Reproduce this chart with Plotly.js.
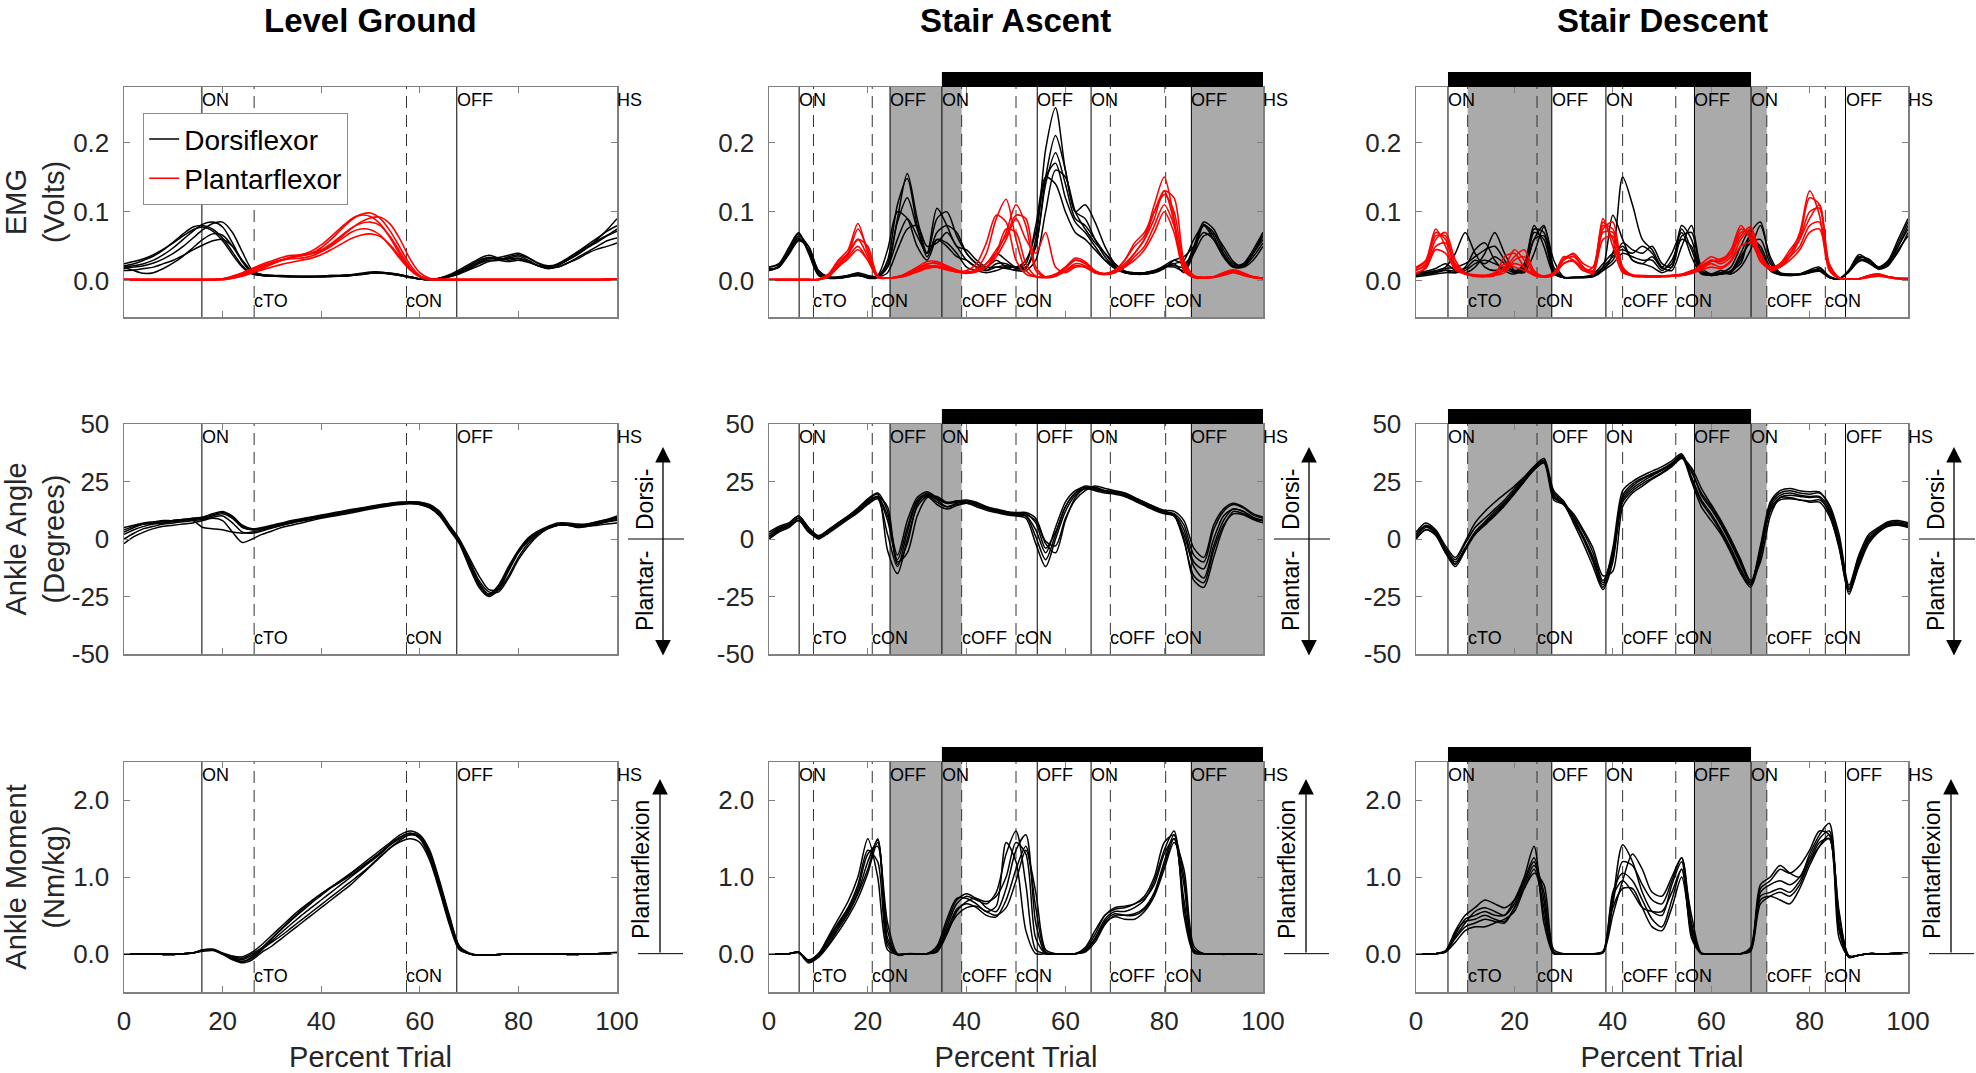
<!DOCTYPE html>
<html><head><meta charset="utf-8">
<script src="https://cdn.plot.ly/plotly-3.0.1.min.js"></script>
<style>html,body{margin:0;padding:0;background:#fff;}#chart{width:1976px;height:1073px;}</style>
</head><body><div id="chart"></div>
<script>
// ---------- shared axis data ----------
const percentTrial = [0,2,4,6,8,10,12,14,16,18,20,22,24,26,28,30,32,34,36,38,40,42,44,46,48,50,52,54,56,58,60,62,64,66,68,70,72,74,76,78,80,82,84,86,88,90,92,94,96,98,100];
const xTicks = [0,20,40,60,80,100];
const emgTicks = [0,0.1,0.2];
const emgTickText = ['0.0','0.1','0.2'];
const angleTicks = [-50,-25,0,25,50];
const angleTickText = ['-50','-25','0','25','50'];
const momentTicks = [0,1,2];
const momentTickText = ['0.0','1.0','2.0'];
const columnTitles = ['Level Ground','Stair Ascent','Stair Descent'];
const rowTitles = ['EMG<br>(Volts)','Ankle Angle<br>(Degrees)','Ankle Moment<br>(Nm/kg)'];
const seriesNames = ['Dorsiflexor','Plantarflexor'];

// ---------- gait events ----------
const levelEvents = [15.8,26.4,57.3,67.5,100];
const levelEventLabels = ['ON','cTO','cON','OFF','HS'];
const ascentEvents = [6.1,9.0,20.9,24.5,35.0,39.0,50.0,54.3,65.2,69.1,80.3,85.5,100];
const ascentEventLabels = ['ON','cTO','cON','OFF','ON','cOFF','cON','OFF','ON','cOFF','cON','OFF','HS'];
const ascentShaded = [[24.5,39.0],[85.5,100]];
const ascentBar = [35.0,100];
const descentEvents = [6.5,10.5,24.6,27.6,38.6,42.0,52.8,56.6,68.1,71.3,83.2,87.3,100];
const descentEventLabels = ['ON','cTO','cON','OFF','ON','cOFF','cON','OFF','ON','cOFF','cON','OFF','HS'];
const descentShaded = [[10.5,27.6],[56.6,71.3]];
const descentBar = [6.5,68.1];

// ---------- EMG (Volts) ----------
const levelEmgDorsi = [
[.02,.022,.025,.03,.038,.048,.06,.072,.082,.085, .078,.055,.028,.012,.008,.007,.007,.006,.006,.006, .006,.007,.007,.008,.01,.012,.012,.01,.008,.006, .003,.002,.004,.008,.013,.02,.028,.034,.032,.033, .036,.03,.022,.02,.025,.033,.042,.05,.058,.066, .075],
[.015,.016,.018,.02,.025,.03,.037,.045,.052,.058, .06,.05,.03,.014,.009,.008,.007,.007,.007,.007, .007,.008,.008,.009,.01,.011,.011,.01,.008,.005, .003,.002,.003,.006,.01,.016,.022,.028,.03,.035, .038,.033,.025,.02,.02,.026,.032,.04,.046,.05, .055],
[.025,.028,.032,.038,.046,.055,.065,.074,.078,.072, .058,.038,.02,.01,.008,.007,.006,.006,.006,.006, .006,.006,.007,.008,.009,.011,.012,.011,.009,.006, .003,.002,.004,.009,.016,.024,.032,.037,.033,.03, .032,.028,.022,.018,.022,.03,.04,.048,.056,.065, .072],
[.018,.02,.022,.026,.032,.04,.05,.062,.074,.083, .085,.07,.042,.016,.009,.008,.008,.007,.007,.007, .007,.008,.008,.009,.011,.013,.013,.011,.009,.006, .003,.002,.003,.007,.012,.018,.026,.032,.034,.037, .04,.034,.026,.022,.024,.03,.038,.048,.06,.074, .09],
[.02,.015,.011,.012,.018,.026,.036,.048,.06,.068, .066,.05,.028,.013,.009,.008,.007,.007,.006,.006, .007,.007,.008,.009,.01,.011,.012,.011,.009,.006, .003,.002,.003,.006,.011,.018,.025,.03,.03,.032, .033,.028,.022,.018,.02,.026,.034,.042,.05,.058, .062],
[.022,.025,.03,.036,.045,.056,.068,.078,.08,.075, .062,.042,.022,.011,.008,.007,.007,.006,.006,.006, .006,.007,.007,.008,.01,.012,.012,.01,.008,.005, .003,.002,.004,.008,.014,.022,.03,.034,.03,.028, .03,.027,.022,.02,.024,.032,.042,.052,.062,.072, .08]
];
const levelEmgPlantar = [
[.002,.002,.002,.002,.002,.002,.002,.002,.002,.002, .003,.006,.01,.016,.022,.027,.031,.034,.036,.04, .048,.06,.074,.087,.096,.098,.09,.072,.048,.024, .008,.003,.002,.002,.002,.002,.002,.002,.002,.002, .002,.002,.002,.002,.002,.002,.002,.002,.002,.003, .003],
[.002,.002,.002,.002,.002,.002,.002,.002,.002,.002, .002,.004,.007,.012,.018,.024,.03,.035,.037,.039, .043,.052,.063,.075,.085,.091,.092,.082,.06,.032, .012,.004,.002,.002,.002,.002,.002,.002,.002,.002, .002,.002,.002,.002,.002,.002,.002,.002,.002,.002, .003],
[.002,.002,.002,.002,.002,.002,.002,.002,.002,.002, .003,.005,.01,.016,.022,.026,.03,.032,.033,.036, .042,.05,.06,.07,.075,.074,.066,.05,.032,.016, .006,.002,.002,.002,.002,.002,.002,.002,.002,.002, .002,.002,.002,.002,.002,.002,.002,.002,.002,.002, .002],
[.002,.002,.002,.002,.002,.002,.002,.002,.002,.002, .003,.007,.012,.018,.024,.029,.034,.037,.038,.04, .045,.054,.065,.076,.083,.085,.08,.064,.042,.02, .007,.003,.002,.002,.002,.002,.002,.002,.002,.002, .002,.002,.002,.002,.002,.002,.002,.002,.002,.002, .003],
[.002,.002,.002,.002,.002,.002,.002,.002,.002,.002, .002,.004,.008,.012,.016,.02,.024,.027,.03,.033, .038,.045,.053,.061,.066,.068,.064,.052,.035,.018, .007,.003,.002,.002,.002,.002,.002,.002,.002,.002, .002,.002,.002,.002,.002,.002,.002,.002,.002,.002, .002],
[.002,.002,.002,.002,.002,.002,.002,.002,.002,.002, .003,.005,.009,.014,.02,.025,.03,.034,.038,.043, .052,.064,.077,.089,.095,.093,.082,.062,.038,.017, .006,.002,.002,.002,.002,.002,.002,.002,.002,.002, .002,.002,.002,.002,.002,.002,.002,.002,.002,.002, .003]
];
const ascentEmgDorsi = [
[.015,.022,.045,.068,.04,.008,.004,.004,.006,.01, .006,.006,.02,.09,.155,.09,.04,.105,.08,.05, .045,.03,.02,.02,.018,.016,.018,.06,.19,.25, .16,.1,.09,.06,.035,.02,.012,.01,.01,.012, .02,.025,.012,.04,.08,.07,.04,.022,.025,.045, .07],
[.02,.025,.048,.07,.042,.01,.004,.005,.007,.009, .005,.007,.03,.11,.148,.08,.035,.07,.08,.07, .04,.025,.015,.02,.022,.02,.02,.05,.15,.21, .16,.1,.11,.085,.05,.025,.014,.01,.01,.014, .02,.02,.015,.045,.082,.065,.035,.02,.022,.04, .065],
[.018,.02,.04,.062,.045,.012,.005,.005,.008,.01, .004,.005,.025,.085,.12,.075,.04,.06,.05,.035, .03,.02,.015,.025,.025,.018,.02,.05,.14,.185, .14,.09,.08,.06,.04,.022,.012,.01,.01,.012, .018,.03,.035,.05,.07,.06,.038,.022,.024,.04, .06],
[.015,.02,.04,.06,.045,.012,.005,.004,.006,.008, .005,.008,.045,.1,.09,.05,.03,.06,.055,.04, .02,.015,.012,.015,.02,.02,.03,.07,.15,.17, .12,.085,.07,.05,.03,.018,.012,.01,.012,.015, .02,.025,.03,.06,.08,.06,.035,.02,.02,.035, .055],
[.02,.024,.042,.065,.05,.015,.006,.005,.006,.008, .006,.006,.02,.06,.09,.065,.04,.09,.1,.065, .04,.025,.02,.03,.02,.015,.015,.03,.1,.16, .15,.1,.075,.055,.04,.025,.014,.01,.01,.013, .02,.022,.02,.05,.085,.075,.045,.025,.022,.04, .07],
[.016,.02,.038,.058,.05,.015,.006,.006,.008,.012, .008,.006,.012,.045,.075,.08,.05,.055,.07,.05, .03,.02,.018,.04,.03,.02,.025,.08,.15,.14, .1,.07,.06,.045,.03,.02,.014,.012,.012,.015, .022,.03,.025,.04,.065,.068,.05,.028,.02,.03, .05]
];
const ascentEmgPlantar = [
[.002,.002,.002,.002,.002,.003,.01,.03,.045,.083, .04,.006,.004,.006,.01,.018,.025,.025,.02,.015, .012,.018,.04,.09,.118,.06,.015,.006,.005,.008, .018,.03,.025,.014,.01,.015,.03,.05,.065,.11, .15,.09,.015,.005,.005,.006,.012,.015,.01,.006, .004],
[.002,.002,.002,.002,.002,.002,.008,.025,.038,.06, .035,.005,.004,.005,.008,.014,.02,.022,.018,.014, .012,.015,.025,.04,.07,.11,.08,.015,.005,.007, .015,.025,.022,.012,.01,.014,.025,.04,.06,.1, .13,.085,.018,.006,.005,.006,.01,.014,.01,.005, .004],
[.002,.002,.002,.002,.002,.002,.006,.02,.035,.05, .03,.005,.004,.006,.01,.016,.022,.02,.016,.013, .012,.014,.02,.035,.06,.09,.06,.04,.07,.02, .012,.02,.02,.012,.01,.012,.02,.035,.05,.08, .11,.08,.02,.006,.005,.005,.008,.012,.008,.005, .004],
[.002,.002,.002,.002,.002,.002,.007,.022,.04,.06, .05,.008,.004,.006,.009,.016,.024,.026,.02,.014, .015,.025,.055,.095,.085,.03,.01,.006,.006,.01, .02,.033,.028,.015,.01,.014,.022,.04,.06,.09, .13,.12,.03,.008,.005,.006,.012,.016,.012,.006, .004],
[.002,.002,.002,.002,.002,.002,.006,.02,.032,.045, .03,.006,.004,.005,.008,.013,.018,.02,.017,.013, .011,.013,.02,.04,.075,.07,.025,.007,.005,.007, .014,.022,.02,.012,.009,.012,.02,.03,.045,.07, .1,.07,.015,.005,.004,.005,.009,.013,.01,.005, .003],
[.002,.002,.002,.002,.002,.002,.008,.028,.04,.075, .045,.007,.004,.006,.012,.02,.028,.028,.022,.016, .013,.016,.025,.045,.065,.095,.09,.02,.006,.009, .02,.03,.026,.014,.011,.016,.03,.055,.07,.1, .125,.1,.025,.006,.005,.006,.011,.015,.01,.006, .004]
];
const descentEmgDorsi = [
[.01,.012,.015,.02,.04,.07,.04,.02,.015,.02, .015,.02,.06,.08,.02,.005,.005,.005,.006,.015, .04,.15,.11,.06,.045,.02,.015,.05,.08,.02, .01,.01,.015,.025,.07,.085,.03,.01,.01,.01, .015,.015,.006,.003,.015,.035,.03,.02,.03,.06, .09],
[.008,.01,.012,.015,.012,.02,.045,.055,.03,.015, .01,.02,.075,.07,.015,.005,.005,.006,.008,.02, .095,.06,.03,.025,.02,.012,.02,.075,.045,.012, .008,.01,.012,.03,.06,.05,.02,.01,.008,.009, .012,.018,.006,.003,.014,.032,.028,.018,.025,.05, .075],
[.012,.014,.018,.025,.015,.012,.02,.04,.07,.04, .015,.012,.04,.078,.03,.006,.005,.005,.007,.018, .03,.055,.045,.04,.05,.025,.02,.065,.07,.015, .01,.012,.01,.02,.045,.08,.035,.012,.01,.01, .014,.016,.005,.003,.016,.038,.03,.02,.028,.055, .085],
[.006,.008,.01,.012,.012,.015,.025,.03,.025,.018, .012,.015,.06,.065,.015,.005,.005,.005,.007,.015, .025,.04,.035,.03,.03,.015,.03,.06,.05,.012, .008,.01,.014,.04,.065,.045,.018,.009,.008,.009, .012,.014,.005,.003,.014,.03,.026,.017,.022,.045, .065],
[.01,.012,.014,.018,.02,.025,.035,.045,.05,.03, .012,.018,.07,.06,.012,.005,.005,.006,.01,.025, .04,.045,.04,.05,.04,.018,.025,.08,.06,.014, .01,.015,.012,.035,.055,.06,.025,.01,.009,.01, .016,.02,.007,.003,.015,.034,.032,.02,.026,.05, .08],
[.008,.01,.013,.016,.014,.018,.03,.025,.035,.025, .014,.025,.08,.05,.01,.005,.005,.005,.008,.02, .035,.05,.03,.025,.035,.02,.04,.07,.035,.01, .009,.012,.02,.05,.075,.04,.015,.009,.009,.01, .014,.015,.006,.003,.013,.028,.03,.02,.024,.042, .07]
];
const descentEmgPlantar = [
[.015,.025,.07,.06,.02,.01,.008,.008,.01,.02, .045,.03,.01,.006,.008,.03,.035,.02,.01,.085, .06,.015,.008,.007,.007,.007,.008,.01,.015,.02, .03,.025,.035,.07,.07,.03,.02,.025,.04,.07, .13,.095,.015,.004,.003,.003,.008,.01,.006,.004, .004],
[.02,.03,.075,.05,.018,.01,.007,.006,.008,.035, .04,.02,.008,.006,.01,.035,.03,.015,.02,.09, .05,.012,.008,.007,.006,.007,.008,.008,.012,.025, .035,.03,.045,.08,.06,.04,.015,.02,.035,.06, .1,.105,.02,.004,.003,.003,.007,.01,.006,.004, .003],
[.01,.02,.05,.055,.025,.012,.008,.007,.008,.012, .03,.035,.012,.006,.009,.025,.03,.018,.015,.07, .07,.02,.008,.006,.006,.006,.007,.008,.012,.018, .025,.02,.03,.06,.075,.035,.018,.022,.035,.05, .08,.085,.02,.004,.003,.003,.006,.008,.005,.003, .003],
[.018,.028,.065,.065,.022,.01,.008,.008,.012,.025, .02,.015,.009,.007,.012,.03,.04,.025,.02,.08, .075,.018,.009,.008,.007,.007,.008,.009,.014,.022, .03,.028,.04,.075,.065,.028,.018,.025,.045,.065, .12,.11,.018,.004,.003,.003,.008,.01,.006,.004, .004],
[.012,.018,.045,.04,.016,.01,.007,.007,.009,.015, .025,.02,.009,.006,.01,.025,.028,.015,.012,.06, .065,.015,.007,.006,.006,.006,.007,.008,.011,.016, .02,.018,.028,.05,.055,.03,.016,.02,.03,.045, .07,.075,.02,.004,.003,.003,.005,.007,.005,.003, .003],
[.016,.022,.06,.07,.03,.012,.009,.008,.01,.018, .035,.045,.015,.007,.011,.032,.038,.02,.014,.075, .085,.02,.008,.007,.007,.007,.008,.009,.013,.02, .028,.032,.04,.065,.078,.038,.02,.024,.04,.06, .09,.11,.025,.005,.003,.003,.007,.009,.006,.004, .003]
];

// ---------- ankle angle (degrees) ----------
const levelAngle = [
[2,4,5.5,6.5,7,7.5,8,8.5,9,10, 11,9,5,4,4.5,5.5,6.5,7.5,8.2,9, 9.7,10.4,11.2,12,12.8,13.6,14.4,15,15.6,15.8, 15.5,14,11,5,-1,-10,-19,-24,-20,-12, -5,0,3,5,6,6,5.5,6,7,8, 9],
[-2,1,3,4.5,5.5,6,6.5,7,8,9, 8,3,-1.5,0,2,3.5,5,6,7,8, 9,9.8,10.5,11.3,12.2,13,13.8,14.5,15,15.3, 15,13.5,10,4,-2,-12,-21,-25,-22,-14, -6,-1,2.5,5,6,6,5,5.5,6.5,7.5, 8],
[5,6,7,7.5,8,8,8.5,8,5,4.5, 4,3,2.5,3,4,5,6,7,7.8,8.6, 9.4,10.2,11,11.8,12.6,13.4,14.2,15,15.5,15.5, 15,13.5,10.5,4.5,-1.5,-11,-20,-24,-21,-13, -5.5,-.5,2.5,4.5,6,6,5.5,5.5,6,6.5, 7],
[3,5,6.5,7,7.5,8,8.5,9,9.5,11, 12,10,6,4.5,5,6,7,8,8.8,9.6, 10.4,11.2,12,12.8,13.5,14.2,15,15.6,16,16, 16,15,12,6,0,-8,-16,-22,-22,-16, -8,-2,2,5,6.5,6.5,6,6.5,7.5,8.5, 10],
[0,2.5,4.5,5.5,6.5,7,7.5,8,8.5,9.5, 10,7,3,2.5,3.5,4.8,6,7,8,8.8, 9.6,10.4,11.2,12,12.8,13.6,14.3,15,15.4,15.6, 15.5,14,11.5,5.5,-.5,-9,-18,-23,-23,-17, -9,-3,1.5,4.5,6,6.5,6,6,6.5,7.5, 8.5],
[4,5.5,6.5,7,7.5,8,8.5,9,9.5,10.5, 11.5,9.5,5.5,4,4.5,5.5,6.5,7.5,8.5,9.3, 10,10.8,11.6,12.4,13.2,14,14.8,15.4,16,16.2, 16,14.5,11.5,5.5,-.5,-10,-19.5,-24.5,-21,-13, -5,.5,3.5,5.5,7,7,6.5,6.5,7.5,8.5, 9.5]
];
const ascentAngle = [
[1,4,6,9,4,1,3,6,9,12.5, 16,18,8,-9,5,17,19.5,17,14,15, 15.5,14.5,13,12,11,10.5,10,4,-6,5, 16,21,22.5,21.5,20.5,20,19,17,15,13, 11.5,10.5,4,-10,-13,0,10,13,12,9, 8],
[0,3,5,8,3,.5,3.5,6.5,9.5,13, 17,19.5,-5,-15,0,14,18.5,15,13,14.5, 15.5,14,12.5,11.5,10.5,10,9,-2,-12,0, 12,19,22,21.5,21,20.5,19.5,17.5,15.5,13.5, 12,10.5,0,-18,-21,-8,5,12,11,9, 8],
[2,5,6.5,10,5,1,4,7,10,13.5, 17.5,20,12,-11,-2,15,20,17.5,15.5,16.5, 17,16,14,12.5,11.5,11,11,7,-4,3, 14,20,23,22,21,20.5,20,18,16,14, 12,11,6,-7,-10,4,12,15,13.5,10.5, 9],
[1,4.5,6,9,4,.5,3,6,9,12, 15.5,18.5,14,-10,-6,10,18,18.5,16,16.5, 16,15,13.5,12.5,11.5,11,10.5,8,-2,-6, 8,18,22,22.5,21,20,19,17,15,13, 11.5,10,2,-12,-17,-3,8,13,12,9.5, 8],
[0,3.5,5.5,8,3.5,0,2.5,5.5,8.5,11.5, 15,17.5,2,-12,3,16,19,16,14,15.5, 16,15,13.5,12,11,10.5,10,1,-9,2, 14,20,22,21,20,19.5,18.5,16.5,14.5,12.5, 11,10,-1,-16,-19,-5,6,11,10.5,8.5, 7],
[3,5.5,7,10,5,1.5,4,7,10,13, 16.5,18.5,10,-7,8,18,20.5,18,15.5,16, 16.5,15.5,14,13,12,11.5,11.5,9,-1,-3, 9,17,21,23,22,21,20,18,16,14, 12.5,12,8,-4,-8,6,13,15.5,14,11, 9.5]
];
const descentAngle = [
[2,5.5,3,-5,-11,-4,3,7.5,12,16, 21,26,31,34,20,16,10,3,-6,-18, -6,19,24,26.5,28.5,30.5,33,36,30,19, 13,6,-2,-11,-19,-4,14,19,20,19, 18.5,18.5,13,-1,-22,-9,1,4.5,6.5,7, 6],
[0,4,2,-6,-12,-5,2,6,10,14.5, 19.5,25,30.5,35,18,15,8,0,-10,-21, -8,17,22,25,27.5,30,33,36.5,26,16, 10,3,-5,-14,-20,-7,12,17,17.5,17, 16.5,17,12,-3,-24,-11,-1,3,5.5,6, 5],
[3,7,4,-3,-8,-1,7,12,16,19.5, 23,27,31.5,34,19,15.5,7,-2,-12,-22, -10,16,21,24,26.5,29,32,35.5,25,14, 8,2,-6,-15,-21,-8,15,20,21,20, 19.5,20,15,2,-20,-7,2,5,7.5,8, 7],
[1,5,2.5,-5,-10,-4,3,7,11,15.5, 20.5,25.5,30,33,17,15,11,4,-4,-16, -14,14,20,23,26,28.5,31.5,35,31,22, 15,8,0,-9,-18,-10,10,18,19,18.5, 18,18,11,-4,-23,-12,-2,3,6,6.5, 5.5],
[2,6,3.5,-4,-9,-2,5,9,13,17, 22,26.5,31.5,35,21,16.5,9,1,-9,-20, -4,21,25,27.5,29.5,31.5,34,37,27,17, 11,4,-4,-13,-20,-3,16,21,22,21, 20.5,20.5,14,0,-21,-8,0,4,7,7.5, 6.5],
[0,4,1.5,-6,-11,-4,2,6.5,10.5,15, 20,25,30,33.5,18.5,15,9,1,-8,-19, -7,18,23,26,28,30,32.5,35.5,29,20, 14,7,-1,-10,-19,-6,13,18,18,17, 16,16,10,-3,-22,-10,-.5,3.5,6,6.5, 5.5]
];

// ---------- ankle moment (Nm/kg) ----------
const levelMoment = [
[0,0,0,0,-.01,-.01,0,.01,.04,.05, 0,-.06,-.1,-.06,.05,.17,.28,.39,.5,.6, .7,.8,.9,1,1.1,1.2,1.3,1.42,1.52,1.57, 1.5,1.25,.85,.4,.06,0,-.02,-.02,-.01,0, 0,0,0,0,0,-.01,-.01,0,0,.01, .01],
[0,0,0,0,0,-.01,0,.01,.05,.05, 0,-.04,-.06,0,.08,.2,.32,.44,.55,.66, .76,.86,.95,1.04,1.13,1.22,1.32,1.42,1.5,1.55, 1.52,1.3,.9,.45,.08,0,-.02,-.02,-.01,0, 0,0,0,0,0,0,-.01,0,0,0, .01],
[0,0,0,0,-.01,-.01,0,.01,.03,.04, -.01,-.08,-.12,-.08,.02,.1,.2,.3,.4,.5, .6,.7,.8,.9,1.02,1.14,1.26,1.38,1.48,1.55, 1.53,1.32,.92,.48,.1,.01,-.02,-.02,-.01,0, 0,0,0,0,0,-.01,-.01,0,0,0, .01],
[0,0,0,0,-.01,0,0,.01,.04,.05, 0,-.07,-.11,-.04,.07,.2,.33,.45,.57,.68, .78,.87,.96,1.05,1.15,1.25,1.35,1.45,1.55,1.6, 1.55,1.35,.95,.5,.1,0,-.02,-.02,-.01,0, 0,0,0,0,0,-.01,0,0,0,.01, .02],
[0,0,0,0,-.01,-.01,0,.01,.04,.05, 0,-.05,-.08,-.02,.06,.15,.24,.34,.44,.54, .64,.74,.84,.94,1.04,1.15,1.27,1.38,1.46,1.5, 1.45,1.22,.82,.38,.05,0,-.02,-.02,-.01,0, 0,0,0,0,0,-.01,-.01,0,0,0, .01],
[0,0,0,0,-.01,-.01,0,.01,.05,.06, .01,-.03,-.04,.02,.12,.24,.36,.48,.59,.69, .78,.86,.94,1.02,1.11,1.21,1.32,1.43,1.52,1.57, 1.53,1.28,.88,.42,.07,0,-.02,-.02,-.01,0, 0,0,0,0,0,0,-.01,0,0,.01, .01]
];
const ascentMoment = [
[0,0,0,.02,-.08,0,.2,.4,.6,.9, 1.35,1.2,.1,-.01,0,0,0,.05,.35,.65, .75,.7,.65,.8,1.3,1.6,.9,.05,0,0, 0,0,.05,.2,.45,.55,.55,.6,.7,.95, 1.35,1.6,.6,.02,0,0,0,0,0,0, 0],
[0,0,0,.02,-.1,-.03,.12,.32,.52,.78, 1.1,1.5,.3,-.02,0,0,0,.02,.25,.55, .68,.72,.6,.55,.85,1.35,1.55,.4,0,0, 0,0,.02,.15,.38,.5,.5,.52,.6,.8, 1.2,1.55,1.0,.05,0,0,-.01,0,0,0, 0],
[0,0,0,.01,-.12,-.05,.1,.28,.48,.72, 1.05,1.45,.4,0,0,0,0,.03,.3,.58, .65,.6,.5,.48,.7,1.1,1.4,.6,.02,0, 0,0,.03,.18,.4,.48,.45,.45,.55,.75, 1.1,1.45,1.1,.1,0,0,0,0,0,0, 0],
[0,0,0,.02,-.09,0,.18,.38,.58,.85, 1.3,1.4,.15,-.01,0,0,0,.08,.4,.7, .78,.72,.68,.75,1.0,1.45,1.3,.2,0,0, 0,0,.06,.25,.5,.6,.62,.65,.72,.9, 1.3,1.5,.7,.03,0,0,0,0,0,0, 0],
[0,0,0,.02,-.11,-.02,.15,.35,.55,.8, 1.2,1.48,.2,-.01,0,0,0,.04,.28,.5, .6,.62,.55,.5,.6,.95,1.35,.8,.05,0, 0,0,.04,.2,.42,.52,.5,.5,.58,.78, 1.15,1.5,.9,.05,0,0,0,0,0,0, 0],
[0,0,0,.02,-.1,-.01,.22,.45,.68,1.0, 1.5,1.0,.05,-.01,0,0,0,.1,.45,.72, .72,.65,.55,.62,1.45,1.2,.3,0,0,0, 0,0,.08,.3,.5,.58,.6,.65,.75,1.0, 1.45,1.55,.5,.01,0,0,0,0,0,0, 0]
];
const descentMoment = [
[0,0,0,.03,.25,.45,.5,.55,.5,.5, .7,1.0,1.4,.4,0,0,0,0,0,.02, .7,1.42,1.2,.8,.55,.5,.9,1.2,.2,0, 0,0,0,0,.05,.85,.95,1.1,1.05,1.15, 1.35,1.6,1.55,.2,-.04,-.02,0,0,0,.01, .01],
[0,0,0,.02,.2,.35,.4,.45,.42,.4, .6,.9,1.15,.8,.02,0,0,0,0,.01, .5,.95,1.3,1.1,.8,.75,1.0,1.25,.4,0, 0,0,0,0,.03,.65,.75,.8,.75,.9, 1.2,1.45,1.5,.5,-.03,-.02,0,0,0,0, .01],
[0,0,0,.04,.3,.5,.6,.7,.65,.6, .7,.95,1.2,.5,0,0,0,0,0,.03, .8,1.05,.95,.7,.45,.35,.7,1.1,.25,0, 0,0,0,0,.08,.9,1.0,1.15,1.05,1.0, 1.3,1.55,1.7,.4,-.04,-.02,0,0,0,.01, .01],
[0,0,0,.02,.15,.3,.35,.35,.4,.45, .55,.85,1.1,.6,0,0,0,0,0,.02, .6,.85,.85,.6,.35,.3,.6,1.0,.3,0, 0,0,0,0,.04,.7,.75,.7,.65,.85, 1.15,1.4,1.55,.3,-.05,-.02,0,0,0,0, .01],
[0,0,0,.03,.22,.4,.55,.6,.55,.5, .65,.95,1.25,.7,.01,0,0,0,0,.02, .65,1.2,1.15,.9,.7,.65,.95,1.25,.35,0, 0,0,0,0,.06,.8,.9,.95,.9,1.0, 1.25,1.5,1.6,.35,-.04,-.02,0,0,0,.01, .01],
[0,0,0,.03,.28,.42,.45,.5,.45,.42, .6,.85,1.05,.9,.05,0,0,0,0,.02, .75,.95,.8,.6,.55,.55,.8,1.1,.5,.01, 0,0,0,0,.05,.75,.8,.85,.8,.95, 1.2,1.4,1.5,.55,-.03,-.02,0,0,0,0, .01]
];

// ---------- figure construction ----------
const W = 1976, H = 1073;
const colPx = [[124,617],[769,1263],[1416,1908]];
const rowPx = [[87,317],[424,654],[762,992]];
const FONT = 'Arial, "Liberation Sans", sans-serif';
const px2x = p => p / W;
const px2y = p => 1 - p / H;

const columns = [
  {events: levelEvents, labels: levelEventLabels, shaded: [], bar: null,
   emg: [levelEmgDorsi, levelEmgPlantar], angle: levelAngle, moment: levelMoment},
  {events: ascentEvents, labels: ascentEventLabels, shaded: ascentShaded, bar: ascentBar,
   emg: [ascentEmgDorsi, ascentEmgPlantar], angle: ascentAngle, moment: ascentMoment},
  {events: descentEvents, labels: descentEventLabels, shaded: descentShaded, bar: descentBar,
   emg: [descentEmgDorsi, descentEmgPlantar], angle: descentAngle, moment: descentMoment}
];
const rowSpec = [
  {range: [-0.052, 0.28], tickvals: emgTicks, ticktext: emgTickText},
  {range: [-50, 50], tickvals: angleTicks, ticktext: angleTickText},
  {range: [-0.5, 2.5], tickvals: momentTicks, ticktext: momentTickText}
];

const traces = [];
const shapes = [];
const annotations = [];
const layout = {
  width: W, height: H, margin: {l: 0, r: 0, t: 0, b: 0, pad: 0},
  paper_bgcolor: '#ffffff', plot_bgcolor: '#ffffff',
  font: {family: FONT, color: '#262626'},
  showlegend: true,
  legend: {x: px2x(143), y: px2y(113), xanchor: 'left', yanchor: 'top',
           bgcolor: '#ffffff', bordercolor: '#8c8c8c', borderwidth: 1.2,
           font: {family: FONT, size: 28, color: '#000000'}, tracegroupgap: 0}
};

function addLines(sets, xa, ya, color, width, name, showLegendFirst) {
  sets.forEach((vals, i) => {
    traces.push({
      type: 'scatter', mode: 'lines', x: percentTrial, y: vals,
      xaxis: xa, yaxis: ya, name: name, legendgroup: name,
      showlegend: !!(showLegendFirst && i === 0),
      line: {color: color, width: width, shape: 'spline', smoothing: 0.8},
      hoverinfo: 'skip'
    });
  });
}

for (let r = 0; r < 3; r++) {
  for (let c = 0; c < 3; c++) {
    const k = r * 3 + c + 1;
    const xa = k === 1 ? 'x' : 'x' + k;
    const ya = k === 1 ? 'y' : 'y' + k;
    const xKey = k === 1 ? 'xaxis' : 'xaxis' + k;
    const yKey = k === 1 ? 'yaxis' : 'yaxis' + k;
    const col = columns[c];
    layout[xKey] = {
      domain: [px2x(colPx[c][0]), px2x(colPx[c][1])], anchor: ya,
      range: [0, 100], tickvals: xTicks, showticklabels: r === 2,
      ticks: 'inside', ticklen: 6, tickwidth: 1, tickcolor: '#808080',
      showline: true, linecolor: '#808080', linewidth: 1.5, mirror: 'ticks',
      showgrid: false, zeroline: false, automargin: false, fixedrange: true,
      ticklabelstandoff: 5,
      tickfont: {family: FONT, size: 26, color: '#262626'},
      title: r === 2 ? {text: 'Percent Trial', font: {family: FONT, size: 29, color: '#262626'}, standoff: 13} : {text: ''}
    };
    layout[yKey] = {
      domain: [px2y(rowPx[r][1]), px2y(rowPx[r][0])], anchor: xa,
      range: rowSpec[r].range, tickvals: rowSpec[r].tickvals, ticktext: rowSpec[r].ticktext,
      ticks: 'inside', ticklen: 6, tickwidth: 1, tickcolor: '#808080',
      showline: true, linecolor: '#808080', linewidth: 1.5, mirror: 'ticks',
      showgrid: false, zeroline: false, automargin: false, fixedrange: true,
      ticklabelstandoff: 8,
      tickfont: {family: FONT, size: 26, color: '#262626'},
      title: c === 0 ? {text: rowTitles[r], font: {family: FONT, size: 29, color: '#262626'}, standoff: 6} : {text: ''}
    };

    // curves
    if (r === 0) {
      addLines(col.emg[0], xa, ya, '#000000', 1.5, seriesNames[0], c === 0);
      addLines(col.emg[1], xa, ya, '#ff0000', 1.6, seriesNames[1], c === 0);
    } else if (r === 1) {
      addLines(col.angle, xa, ya, '#000000', 1.5, 'Ankle Angle', false);
    } else {
      addLines(col.moment, xa, ya, '#000000', 1.5, 'Ankle Moment', false);
    }

    // shaded phases
    col.shaded.forEach(s => shapes.push({type: 'rect', xref: xa, yref: ya + ' domain',
      x0: s[0], x1: s[1], y0: 0, y1: 1, fillcolor: '#aaaaaa', line: {width: 0}, layer: 'below'}));
    // event lines and labels
    col.events.forEach((ev, i) => {
      const lab = col.labels[i];
      const contra = lab.charAt(0) === 'c';
      if (lab !== 'HS') {
        shapes.push({type: 'line', xref: xa, yref: ya + ' domain', x0: ev, x1: ev, y0: 0, y1: 1,
          line: contra ? {color: '#333333', width: 1, dash: '12px,7px'} : {color: '#000000', width: 1},
          layer: 'below'});
      }
      annotations.push({xref: xa, yref: ya + ' domain', x: ev, y: contra ? 0.07 : 0.943,
        text: lab, showarrow: false, xanchor: 'left', yanchor: 'middle', xshift: -2,
        font: {family: FONT, size: 18, color: '#000000'}});
    });
    // black bar over the plot
    if (col.bar) {
      shapes.push({type: 'rect', xref: xa, yref: ya + ' domain', x0: col.bar[0], x1: col.bar[1],
        y0: 1, y1: 1 + 15 / 230, fillcolor: '#000000', line: {width: 0}, layer: 'above'});
    }
    // right-side direction indicators
    const right = colPx[c][1], top = rowPx[r][0], bottom = rowPx[r][1];
    if (r === 1) {
      shapes.push({type: 'line', xref: 'paper', yref: ya, x0: px2x(right + 11), x1: px2x(right + 67),
        y0: 0, y1: 0, line: {color: '#000000', width: 1}});
      annotations.push({xref: 'paper', yref: 'paper', x: px2x(right + 46), y: px2y(top + 23),
        ax: 0, ay: (bottom + 3) - (top + 23), axref: 'pixel', ayref: 'pixel', text: '',
        showarrow: true, arrowside: 'end+start', arrowhead: 2, startarrowhead: 2,
        arrowsize: 2.4, startarrowsize: 2.4, arrowwidth: 1.3, arrowcolor: '#000000'});
      annotations.push({xref: 'paper', yref: 'paper', x: px2x(right + 28), y: px2y(top + 76),
        text: 'Dorsi-', textangle: -90, showarrow: false, xanchor: 'center', yanchor: 'middle',
        font: {family: FONT, size: 23, color: '#000000'}});
      annotations.push({xref: 'paper', yref: 'paper', x: px2x(right + 28), y: px2y(top + 167),
        text: 'Plantar-', textangle: -90, showarrow: false, xanchor: 'center', yanchor: 'middle',
        font: {family: FONT, size: 23, color: '#000000'}});
    } else if (r === 2) {
      shapes.push({type: 'line', xref: 'paper', yref: ya, x0: px2x(right + 21), x1: px2x(right + 66),
        y0: 0, y1: 0, line: {color: '#000000', width: 1}});
      annotations.push({xref: 'paper', yref: 'paper', x: px2x(right + 43), y: px2y(top + 17),
        ax: 0, ay: 175, axref: 'pixel', ayref: 'pixel', text: '',
        showarrow: true, arrowside: 'end', arrowhead: 2, arrowsize: 2.4, arrowwidth: 1.3,
        arrowcolor: '#000000'});
      annotations.push({xref: 'paper', yref: 'paper', x: px2x(right + 24), y: px2y(top + 108),
        text: 'Plantarflexion', textangle: -90, showarrow: false, xanchor: 'center', yanchor: 'middle',
        font: {family: FONT, size: 23, color: '#000000'}});
    }
  }
}

// column titles
columnTitles.forEach((t, c) => annotations.push({xref: 'paper', yref: 'paper',
  x: px2x((colPx[c][0] + colPx[c][1]) / 2), y: 1, text: '<b>' + t + '</b>',
  showarrow: false, xanchor: 'center', yanchor: 'top', yshift: -1, borderpad: 0,
  font: {family: FONT, size: 33, color: '#000000'}}));

layout.shapes = shapes;
layout.annotations = annotations;
Plotly.newPlot('chart', traces, layout, {displayModeBar: false, responsive: false, staticPlot: true});
</script></body></html>
